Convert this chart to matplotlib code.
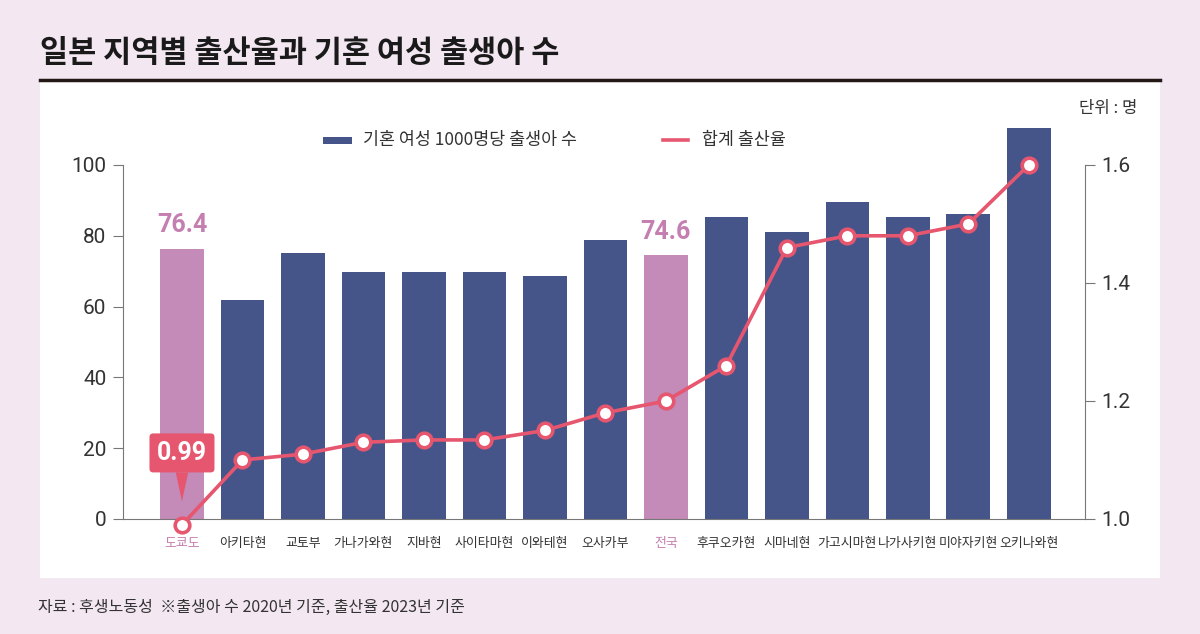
import matplotlib.pyplot as plt
from matplotlib.patches import Rectangle
from matplotlib.lines import Line2D
import numpy as np

plt.rcParams['font.family'] = ['Noto Sans CJK KR', 'DejaVu Sans']

# data
regions = ['도쿄도', '아키타현', '교토부', '가나가와현', '지바현', '사이타마현', '이와테현',
           '오사카부', '전국', '후쿠오카현', '시마네현', '가고시마현', '나가사키현',
           '미야자키현', '오키나와현']
births = [76.4, 62.0, 75.1, 69.8, 69.8, 69.8, 68.6, 78.8, 74.6, 85.3, 81.1, 89.5,
          85.3, 86.2, 110.5]
tfr = [0.99, 1.10, 1.11, 1.13, 1.134, 1.134, 1.15, 1.18, 1.20, 1.26, 1.46, 1.48,
       1.48, 1.50, 1.60]
highlight = ['도쿄도', '전국']

navy = '#45558A'
pink_bar = '#C48AB8'
pink_txt = '#C47FB0'
red = '#E6566E'
bg = '#F3E7F1'
num_font = ['Roboto', 'DejaVu Sans']

fig = plt.figure(figsize=(12, 6.34), dpi=100)
fig.patch.set_facecolor(bg)

# white panel + title line
fig.add_artist(Rectangle((40/1200, 1-578/634), 1120/1200, 496/634,
                         transform=fig.transFigure, facecolor='white', edgecolor='none', zorder=0))
fig.add_artist(Line2D([40/1200, 1160/1200], [1-80/634, 1-80/634], transform=fig.transFigure,
                      color='#231815', lw=2.5))
fig.text(40/1200, 1-53/634, '일본 지역별 출산율과 기혼 여성 출생아 수', fontsize=22,
         fontweight='heavy', color='#1a1a1a', va='center', ha='left')

ax = fig.add_axes([123/1200, 1-519/634, (1085-123)/1200, (519-122.5)/634])
ax.patch.set_visible(False)
x = np.arange(len(regions))
colors = [pink_bar if r in highlight else navy for r in regions]
ax.bar(x, births, width=0.72, color=colors, zorder=2)
ax.set_ylim(0, 112)
ax.set_xlim(-0.975, 14.93)
ax.set_yticks([0, 20, 40, 60, 80, 100])
for s in ['top', 'right']:
    ax.spines[s].set_visible(False)
ax.spines['left'].set_bounds(0, 100)
ax.spines['left'].set_color('#777777')
ax.spines['bottom'].set_color('#777777')
ax.tick_params(axis='y', length=7, color='#777777', labelsize=15, labelcolor='#333333', pad=5)
for lab in ax.get_yticklabels():
    lab.set_family(num_font)
ax.set_xticks(x)
ax.set_xticklabels(regions, fontsize=9.3, color='#333333')
for lab, r in zip(ax.get_xticklabels(), regions):
    if r in highlight:
        lab.set_color(pink_txt)
ax.tick_params(axis='x', length=0, pad=13)

for i, r in enumerate(regions):
    if r in highlight:
        ax.annotate(f'{births[i]:.1f}', (x[i], births[i]), xytext=(0, 8),
                    textcoords='offset points', ha='center', va='bottom',
                    fontsize=18, fontweight='bold', color=pink_txt, family=num_font)

ax2 = ax.twinx()
ax2.set_ylim(1.0, 1.0 + 112 * 0.006)
ax2.plot(x, tfr, color=red, lw=2.6, marker='o', markersize=10.5,
         markerfacecolor='white', markeredgecolor=red, markeredgewidth=2.6,
         clip_on=False, zorder=3)
ax2.set_yticks([1.0, 1.2, 1.4, 1.6])
ax2.set_yticklabels(['1.0', '1.2', '1.4', '1.6'])
for s in ['top', 'left', 'bottom']:
    ax2.spines[s].set_visible(False)
ax2.spines['right'].set_bounds(1.0, 1.6)
ax2.spines['right'].set_color('#777777')
ax2.tick_params(axis='y', length=7, color='#777777', labelsize=15, labelcolor='#333333', pad=5)
for lab in ax2.get_yticklabels():
    lab.set_family(num_font)

# callout for Tokyo
ax2.annotate(f'{tfr[0]:.2f}', xy=(x[0], 1.03), xytext=(x[0], 1.112),
             ha='center', va='center', fontsize=18, fontweight='bold', color='white',
             family=num_font,
             bbox=dict(boxstyle='round,pad=0.3,rounding_size=0.15', fc=red, ec='none'),
             arrowprops=dict(arrowstyle='wedge,tail_width=0.5', fc=red, ec='none',
                             shrinkA=0, shrinkB=0))

# legend
fig.add_artist(Rectangle((323/1200, 1-144/634), 29/1200, 7/634, transform=fig.transFigure,
                         facecolor=navy, edgecolor='none'))
fig.text(363/1200, 1-140/634, '기혼 여성 1000명당 출생아 수', fontsize=12.5, color='#333333',
         va='center')
fig.add_artist(Line2D([663/1200, 688/1200], [1-140/634, 1-140/634], transform=fig.transFigure,
                      color=red, lw=2.6))
fig.text(702/1200, 1-140/634, '합계 출산율', fontsize=12.5, color='#333333', va='center')

fig.text(1137/1200, 1-108/634, '단위 : 명', fontsize=12, color='#333333', va='center', ha='right')
fig.text(38/1200, 1-607/634, '자료 : 후생노동성  ※출생아 수 2020년 기준, 출산율 2023년 기준',
         fontsize=11.5, color='#333333', va='center')

fig.savefig('out.png', dpi=100, facecolor=bg)
